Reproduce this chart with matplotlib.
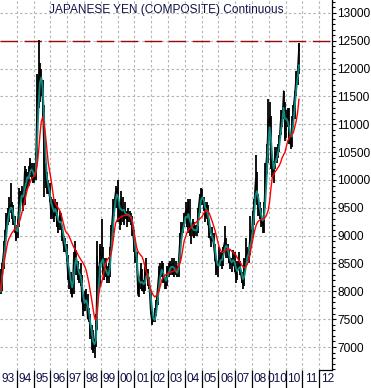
import numpy as np
import matplotlib
matplotlib.use('Agg')
import matplotlib.pyplot as plt
from matplotlib.ticker import MultipleLocator, FixedLocator, NullFormatter, FixedFormatter

# monthly bars, Jan 1993 .. Oct 2010
START_YEAR = 1993
close = [
    8006, 8482, 8711, 9009, 9311, 9390, 9515, 9560, 9443, 9234, 9183, 8937,
    9183, 9606, 9728, 9813, 9560, 10152, 9980, 10000, 10152, 10320, 10111, 10040,
    10040, 10341, 11547, 11876, 11834, 11820, 11325, 10277, 10030, 9823, 9843, 9662,
    9346, 9551, 9346, 9569, 9217, 9116, 9363, 9200, 8977, 8772, 8803, 8636,
    8244, 8313, 8071, 7893, 8591, 8726, 8439, 8264, 8285, 8306, 7837, 7663,
    7880, 7924, 7502, 7576, 7205, 7163, 6930, 7072, 7326, 8621, 8104, 8803,
    8598, 8361, 8403, 8375, 8217, 8278, 8726, 9116, 9434, 9597, 9794, 9785,
    9500, 9250, 9650, 9400, 9350, 9450, 9300, 9400, 9350, 9300, 9150, 8850,
    8591, 8525, 7924, 8091, 8410, 8019, 8000, 8410, 8382, 8170, 8097, 7634,
    7424, 7485, 7536, 7782, 8065, 8368, 8347, 8453, 8210, 8170, 8163, 8418,
    8340, 8489, 8467, 8403, 8375, 8347, 8299, 8554, 8977, 9158, 9124, 9328,
    9443, 9166, 9597, 9058, 9124, 9183, 8969, 9166, 9083, 9452, 9699, 9747,
    9653, 9560, 9328, 9542, 9242, 9017, 8897, 9001, 8826, 8591, 8347, 8489,
    8532, 8636, 8489, 8787, 8913, 8734, 8726, 8518, 8467, 8554, 8636, 8403,
    8264, 8432, 8489, 8368, 8217, 8117, 8432, 8636, 8711, 8666, 8993, 8953,
    9398, 9615, 10030, 9615, 9479, 9416, 9259, 9191, 9434, 10152, 10471, 11038,
    11123, 10246, 10173, 10152, 10493, 10373, 10560, 10753, 11136, 11099, 11601, 10753,
    11074, 11249, 10695, 10627, 10953, 11312, 11561, 11876, 11976, 12438,
]
high = [
    8400, 8500, 8900, 9100, 9400, 9500, 9700, 9950, 9600, 9550, 9350, 9200,
    9300, 9850, 9800, 9900, 9750, 10250, 10200, 10150, 10250, 10400, 10300, 10150,
    10300, 10500, 11900, 12520, 12100, 12000, 11800, 11350, 10300, 10150, 10000, 9950,
    9700, 9650, 9600, 9650, 9600, 9300, 9450, 9400, 9150, 9000, 8950, 8850,
    8650, 8400, 8350, 8150, 8700, 8900, 8750, 8550, 8400, 8500, 8300, 7950,
    8000, 8050, 7950, 7700, 7600, 7400, 7300, 7150, 7600, 8900, 8450, 8850,
    9300, 8800, 8600, 8600, 8450, 8500, 8800, 9200, 9650, 9600, 9900, 9850,
    10000, 9600, 9800, 9700, 9500, 9600, 9450, 9500, 9450, 9400, 9350, 9100,
    8800, 8700, 8300, 8250, 8500, 8400, 8200, 8450, 8600, 8400, 8250, 8000,
    7650, 7550, 7700, 7850, 8100, 8450, 8500, 8550, 8500, 8250, 8250, 8450,
    8500, 8550, 8600, 8500, 8600, 8550, 8450, 8600, 9050, 9250, 9250, 9400,
    9600, 9500, 9650, 9650, 9150, 9300, 9250, 9200, 9200, 9500, 9750, 9850,
    9830, 9700, 9600, 9600, 9550, 9300, 9000, 9150, 9050, 8850, 8600, 8550,
    8800, 8700, 8700, 8800, 9180, 8950, 8850, 8750, 8600, 8600, 8750, 8700,
    8450, 8550, 8700, 8550, 8350, 8250, 8600, 8950, 8800, 8750, 9350, 9100,
    9450, 9650, 10440, 10150, 9750, 9600, 9500, 9300, 9600, 10300, 10650, 11450,
    11400, 11150, 10450, 10350, 10600, 10600, 10650, 10800, 11250, 11250, 11600, 11400,
    11250, 11300, 11300, 10800, 11150, 11350, 11600, 11950, 12050, 12460,
]
low = [
    7950, 8000, 8400, 8700, 8950, 9200, 9250, 9400, 9300, 9200, 9050, 8900,
    8950, 9150, 9450, 9600, 9450, 9550, 9800, 9850, 9900, 10050, 10000, 9950,
    9950, 10000, 10300, 11300, 11400, 11500, 11100, 9700, 9850, 9750, 9750, 9600,
    9300, 9300, 9250, 9350, 9150, 9050, 9100, 9100, 8900, 8700, 8700, 8550,
    8200, 8050, 7950, 7900, 7950, 8600, 8300, 8200, 8150, 8100, 7800, 7550,
    7650, 7750, 7500, 7450, 7150, 6950, 6900, 6800, 7000, 7300, 8000, 8100,
    8550, 8300, 8200, 8250, 8150, 8150, 8250, 8700, 9050, 9350, 9500, 9600,
    9250, 9100, 9200, 9250, 9200, 9300, 9150, 9250, 9250, 9200, 9000, 8700,
    8500, 8450, 7950, 7900, 8050, 8000, 7950, 8000, 8300, 8100, 8050, 7600,
    7400, 7450, 7450, 7550, 7750, 8000, 8250, 8250, 8150, 8050, 8050, 8100,
    8250, 8300, 8300, 8300, 8250, 8300, 8250, 8250, 8500, 8950, 9050, 9150,
    9350, 9150, 9050, 9000, 8850, 9000, 8950, 9000, 9000, 9050, 9400, 9550,
    9550, 9450, 9250, 9300, 9200, 8950, 8800, 8900, 8800, 8550, 8300, 8250,
    8450, 8450, 8400, 8450, 8750, 8600, 8600, 8500, 8400, 8350, 8450, 8350,
    8150, 8200, 8400, 8300, 8150, 8050, 8100, 8450, 8550, 8500, 8650, 8800,
    8950, 9200, 9600, 9550, 9350, 9300, 9150, 9050, 9050, 9500, 10100, 10300,
    10950, 10200, 10050, 9950, 10200, 10300, 10400, 10500, 10800, 10950, 11100, 10700,
    10750, 10950, 10650, 10550, 10600, 10950, 11100, 11500, 11700, 11900,
]
ma_short = [
    8000, 8250, 8500, 8750, 9000, 9250, 9400, 9500, 9500, 9380, 9250, 9100,
    9080, 9250, 9520, 9720, 9700, 9820, 9930, 10050, 10030, 10150, 10190, 10150,
    10070, 10150, 10650, 11300, 11750, 11840, 11650, 11100, 10500, 10050, 9900, 9780,
    9600, 9520, 9430, 9480, 9400, 9280, 9240, 9250, 9170, 8980, 8850, 8740,
    8520, 8380, 8200, 8070, 8200, 8450, 8600, 8460, 8320, 8290, 8130, 7900,
    7790, 7840, 7760, 7650, 7430, 7300, 7100, 7050, 7120, 7650, 8050, 8480,
    8520, 8580, 8440, 8390, 8330, 8290, 8420, 8750, 9100, 9400, 9620, 9740,
    9680, 9500, 9470, 9450, 9470, 9400, 9380, 9380, 9360, 9340, 9250, 9080,
    8820, 8640, 8330, 8180, 8150, 8170, 8130, 8150, 8270, 8310, 8200, 7950,
    7700, 7520, 7480, 7600, 7800, 8070, 8270, 8390, 8340, 8260, 8190, 8260,
    8330, 8410, 8440, 8440, 8410, 8370, 8330, 8400, 8620, 8920, 9090, 9200,
    9340, 9320, 9390, 9290, 9210, 9130, 9100, 9100, 9090, 9220, 9420, 9630,
    9690, 9650, 9510, 9470, 9380, 9250, 9060, 8980, 8920, 8790, 8580, 8470,
    8460, 8560, 8560, 8640, 8760, 8820, 8790, 8660, 8560, 8520, 8560, 8530,
    8420, 8360, 8410, 8440, 8340, 8220, 8270, 8420, 8600, 8670, 8800, 8900,
    9100, 9380, 9720, 9800, 9680, 9500, 9380, 9270, 9300, 9620, 10050, 10600,
    10950, 10750, 10400, 10200, 10300, 10380, 10480, 10610, 10850, 11020, 11300, 11100,
    11100, 11050, 10950, 10800, 10780, 11020, 11320, 11600, 11820, 12060,
]
ma_long = [
    8020, 8250, 8450, 8600, 8750, 8880, 8950, 9000, 9050, 9080, 9120, 9160,
    9180, 9230, 9300, 9400, 9500, 9600, 9720, 9830, 9900, 9960, 10020, 10050,
    10070, 10120, 10250, 10500, 10800, 11050, 11130, 11000, 10800, 10550, 10300, 10150,
    10000, 9820, 9650, 9580, 9540, 9500, 9460, 9400, 9300, 9200, 9100, 9050,
    9030, 8980, 8920, 8860, 8800, 8760, 8720, 8670, 8620, 8580, 8540, 8500,
    8450, 8380, 8270, 8150, 8000, 7850, 7680, 7530, 7480, 7700, 7950, 8080,
    8150, 8250, 8400, 8500, 8560, 8600, 8620, 8700, 8850, 9050, 9220, 9280,
    9300, 9320, 9340, 9350, 9360, 9370, 9370, 9360, 9350, 9330, 9250, 9100,
    8950, 8800, 8720, 8680, 8650, 8620, 8550, 8450, 8350, 8250, 8150, 8050,
    7980, 7930, 7900, 7920, 7950, 8000, 8100, 8200, 8250, 8280, 8300, 8320,
    8330, 8340, 8350, 8360, 8370, 8380, 8400, 8450, 8500, 8600, 8750, 8900,
    8980, 9050, 9100, 9130, 9150, 9170, 9200, 9230, 9250, 9280, 9300, 9320,
    9350, 9400, 9440, 9460, 9440, 9400, 9330, 9260, 9180, 9100, 9000, 8900,
    8800, 8740, 8700, 8700, 8720, 8740, 8760, 8760, 8750, 8720, 8700, 8680,
    8650, 8600, 8560, 8520, 8480, 8440, 8430, 8440, 8480, 8550, 8650, 8800,
    8920, 9050, 9150, 9220, 9260, 9280, 9290, 9300, 9300, 9330, 9380, 9450,
    9600, 9850, 10050, 10100, 10150, 10180, 10220, 10260, 10320, 10400, 10450, 10500,
    10600, 10700, 10750, 10800, 10820, 10850, 10950, 11050, 11200, 11450,
]
resistance = 12500
year_labels = ['93', '94', '95', '96', '97', '98', '99', '00', '01', '02',
               '03', '04', '05', '06', '07', '08', '010', '10', '11', '12']
title = 'JAPANESE YEN (COMPOSITE) Continuous'

plt.rcParams['font.family'] = ['Liberation Sans', 'DejaVu Sans']

t = START_YEAR + (np.arange(len(close)) + 0.5) / 12.0

fig = plt.figure(figsize=(3.71, 3.88), dpi=100)
ax = fig.add_axes([0.0, 18 / 388, 332 / 371, 370 / 388])

x_min, x_max = 1993.0, 2012.76
y_min, y_max = 6587, 13233
ax.set_xlim(x_min, x_max)
ax.set_ylim(y_min, y_max)

ax.grid(True, which='major', color='#b4b4b4', linestyle=(0, (2.2, 2.2)), linewidth=0.8)
ax.set_axisbelow(True)

ax.axhline(resistance, color='#9b0a0a', linewidth=1.0, dashes=(12.6, 4.7), zorder=1)

ax.vlines(t, low, high, color='black', linewidth=1.3, zorder=2)
ax.plot(t, close, color='black', linewidth=0.8, zorder=2)
ax.plot(t, ma_short, color='#0f8a80', linewidth=1.3, zorder=3)
ax.plot(t, ma_long, color='#ff0000', linewidth=1.0, zorder=4)

# right-hand price axis
ax.yaxis.tick_right()
ax.yaxis.set_major_locator(MultipleLocator(500))
ax.yaxis.set_minor_locator(MultipleLocator(100))
ax.tick_params(axis='y', which='major', length=3.2, width=0.8, pad=0.5, labelsize=8.6)
ax.tick_params(axis='y', which='minor', length=1.8, width=0.8)

# year cells along the bottom: separators as major ticks, names as minor labels
bounds = np.arange(1994, 2013)
ax.xaxis.set_major_locator(FixedLocator(bounds))
ax.xaxis.set_major_formatter(NullFormatter())
centers = np.arange(1993, 2013) + 0.5
ax.xaxis.set_minor_locator(FixedLocator(centers))
ax.xaxis.set_minor_formatter(FixedFormatter(year_labels))
ax.tick_params(axis='x', which='major', direction='out', length=14, width=0.9, color='black')
ax.tick_params(axis='x', which='minor', length=0, pad=2.0, labelsize=8.6, labelcolor='#10104a')

for side in ['left', 'top', 'bottom']:
    ax.spines[side].set_visible(False)
ax.spines['right'].set_linewidth(0.9)

# small corner line over the last year cell
ax.plot([2012.0, x_max], [y_min, y_min], color='black', linewidth=0.9, clip_on=False)

ax.text(0.5, 0.973, title, transform=ax.transAxes, ha='center', va='center',
        fontsize=8.6, color='#14144a')

fig.savefig('out.png', dpi=100)
